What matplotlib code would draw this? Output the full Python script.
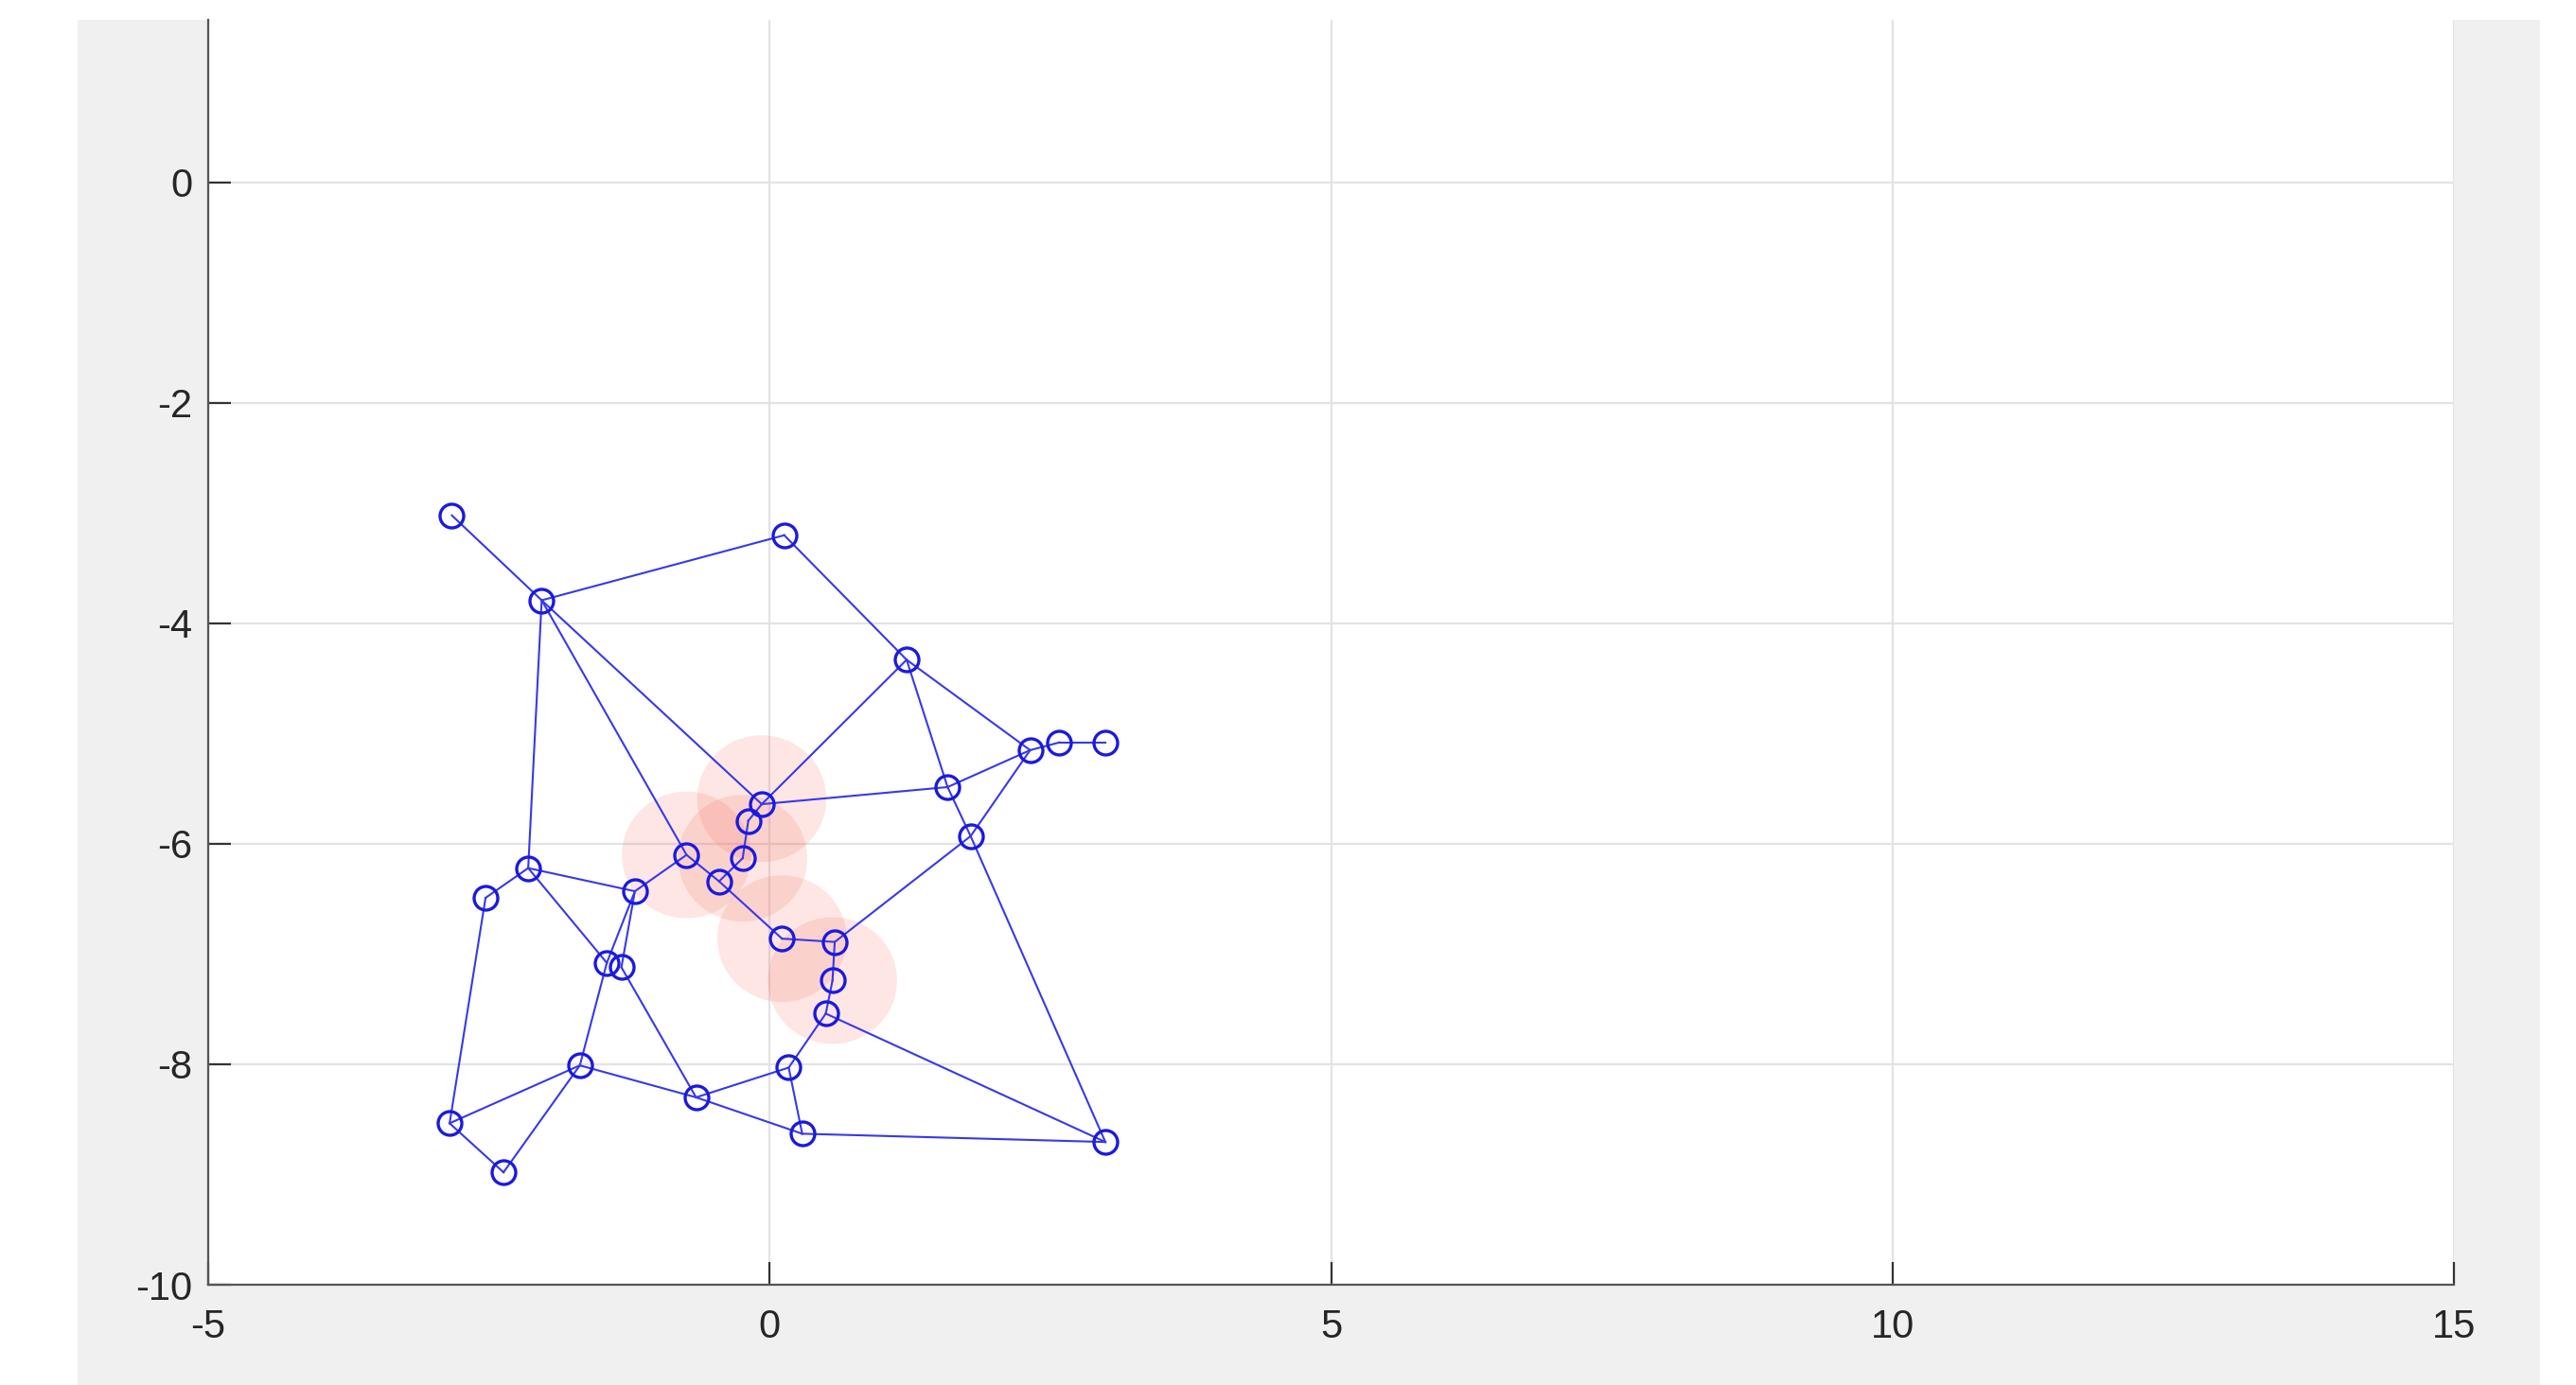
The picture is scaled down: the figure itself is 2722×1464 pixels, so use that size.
import numpy as np
import matplotlib.pyplot as plt
from matplotlib.patches import Circle, Rectangle

plt.rcParams["axes.unicode_minus"] = False

# Coordenadas de los nodos
node_x = [-2.83, 0.13, -2.03, 1.22, 2.32, 2.58, 2.99, 1.585, -0.07, -0.19,
          1.79, -0.74, -0.24, -2.15, -0.45, -1.20, -2.53, 0.11, 0.58, 0.56,
          0.50, -1.45, -1.32, -1.69, -0.655, 0.17, 0.29, 2.99, -2.85, -2.37]
node_y = [-3.02, -3.20, -3.79, -4.33, -5.15, -5.08, -5.08, -5.485, -5.64, -5.79,
          -5.93, -6.10, -6.13, -6.22, -6.34, -6.43, -6.49, -6.86, -6.89, -7.24,
          -7.54, -7.08, -7.12, -8.01, -8.30, -8.03, -8.63, -8.705, -8.535, -8.98]

# Conexiones (pares de índices de nodos)
edges = [(0, 2), (2, 1), (1, 3), (2, 13), (2, 11), (2, 8), (3, 8), (3, 7),
         (3, 4), (4, 7), (4, 10), (4, 5), (5, 6), (8, 7), (8, 9), (9, 12),
         (12, 14), (11, 14), (11, 15), (15, 13), (13, 16), (14, 17), (17, 18),
         (18, 10), (18, 19), (19, 20), (20, 25), (20, 27), (10, 27), (7, 10),
         (13, 21), (15, 21), (15, 22), (21, 23), (22, 24), (23, 24), (24, 25),
         (24, 26), (25, 26), (26, 27), (23, 28), (23, 29), (28, 29), (28, 16)]

# Zonas resaltadas (centro y radio)
zone_x = [-0.07, -0.74, -0.24, 0.11, 0.56]
zone_y = [-5.59, -6.10, -6.13, -6.86, -7.24]
zone_r = 0.575

W, H = 2722, 1464
fig = plt.figure(figsize=(W / 200, H / 200), dpi=200, facecolor="white")

# Fondo gris de la ventana
fig.patches.append(Rectangle((82 / W, 0), (2684 - 82) / W, (H - 21) / H,
                             transform=fig.transFigure, facecolor="#f0f0f0",
                             edgecolor="none", zorder=-10))

ax = fig.add_axes([220 / W, 106 / H, (2593 - 220) / W, (1443 - 106) / H])
ax.set_facecolor("white")

for cx, cy in zip(zone_x, zone_y):
    ax.add_patch(Circle((cx, cy), zone_r, facecolor=(0.97, 0.42, 0.36),
                        alpha=0.17, edgecolor="none", zorder=1))

for i, j in edges:
    ax.plot([node_x[i], node_x[j]], [node_y[i], node_y[j]],
            color=(0.22, 0.22, 0.92), lw=0.75, zorder=2)

ax.plot(node_x, node_y, "o", ms=9, mfc="none", mec=(0.1, 0.1, 0.88),
        mew=1.2, zorder=3)

ax.set_xlim(-5, 15)
ax.set_ylim(-10, 1.476)
ax.set_xticks([-5, 0, 5, 10, 15])
ax.set_yticks([-10, -8, -6, -4, -2, 0])
ax.grid(True, color="#e3e3e3", lw=0.8)
ax.set_axisbelow(True)

for s in ["top", "right"]:
    ax.spines[s].set_visible(False)
for s in ["left", "bottom"]:
    ax.spines[s].set_color("#555555")
    ax.spines[s].set_linewidth(0.8)

ax.tick_params(direction="in", length=8.5, width=0.8, color="#333333",
               labelsize=15, labelcolor="#262626")
ax.tick_params(axis="x", pad=9)
ax.tick_params(axis="y", pad=6)
for lab in ax.get_xticklabels() + ax.get_yticklabels():
    lab.set_family("Liberation Sans")

fig.savefig("out.png", dpi=200, facecolor=fig.get_facecolor())
